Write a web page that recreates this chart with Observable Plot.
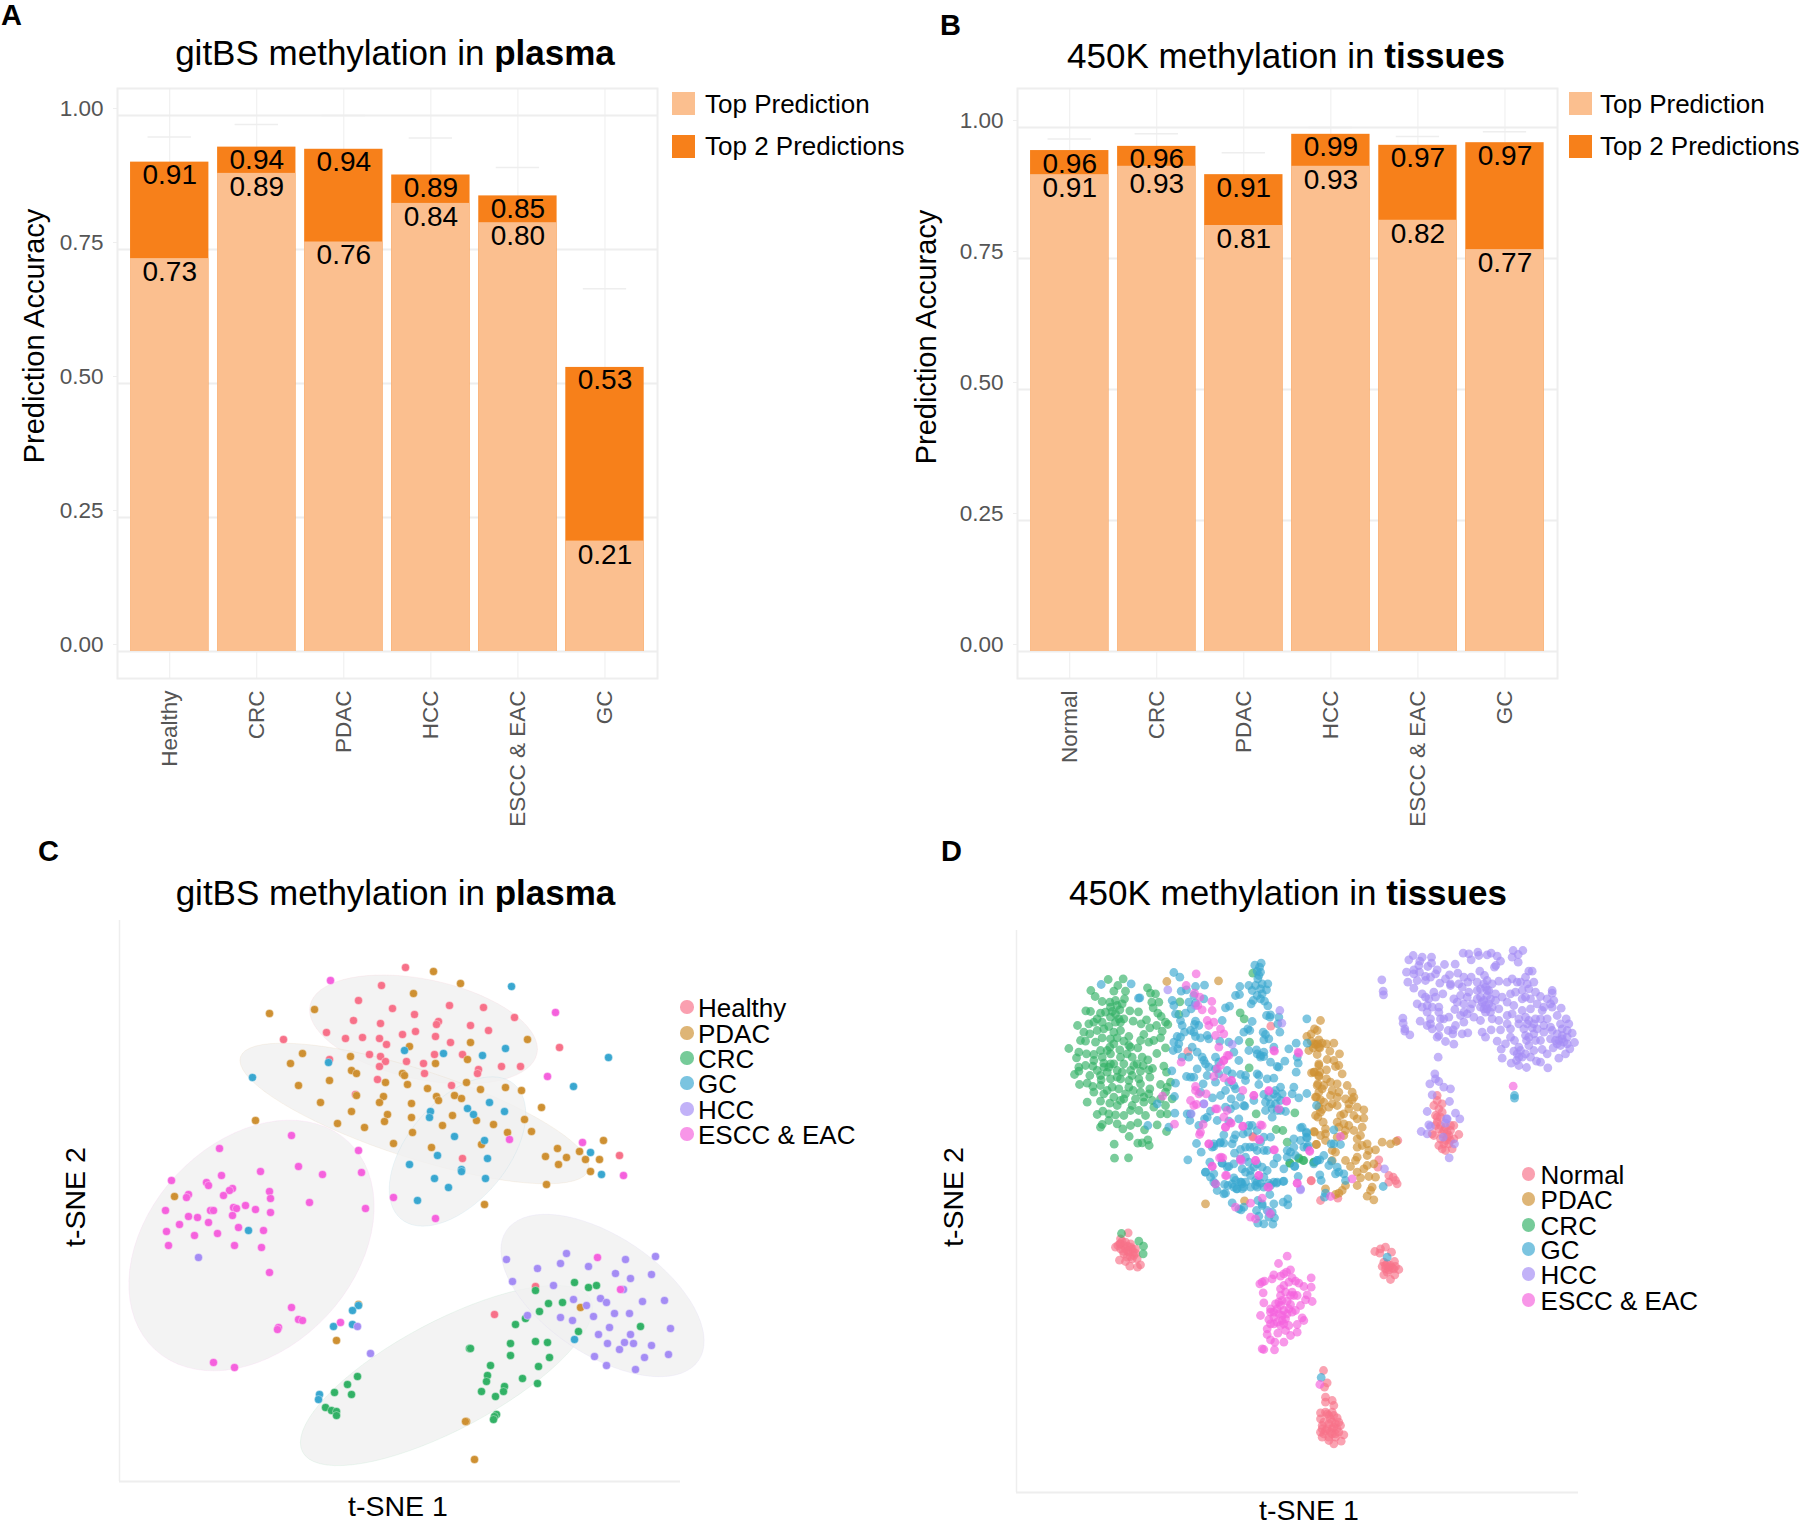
<!DOCTYPE html>
<html><head><meta charset="utf-8">
<script src="https://cdn.jsdelivr.net/npm/d3@7"></script>
<script src="https://cdn.jsdelivr.net/npm/@observablehq/plot@0.6"></script>
<style>
html,body{margin:0;padding:0;background:#fff}
#page{position:relative;width:1800px;height:1526px;overflow:hidden;font-family:"Liberation Sans",Arial,sans-serif;color:#000}
#page svg{position:absolute;background:transparent}
.t{position:absolute;white-space:nowrap;line-height:0.9}
.sw{position:absolute}
</style></head><body><div id="page"></div>
<script>
// ---------- Panels A, B: bars ----------
const catsA = ["Healthy","CRC","PDAC","HCC","ESCC & EAC","GC"];
const top1A = [0.733,0.892,0.764,0.836,0.80,0.206];
const top2A = [0.913,0.941,0.937,0.889,0.85,0.53];
const capA  = [0.96,0.983,1.0,0.958,0.903,0.677];
const catsB = ["Normal","CRC","PDAC","HCC","ESCC & EAC","GC"];
const top1B = [0.91,0.926,0.813,0.926,0.823,0.767];
const top2B = [0.956,0.964,0.91,0.987,0.966,0.971];
const capB  = [0.978,0.988,0.952,1.0,0.983,0.992];

// ---------- Panel C: points in reading units of the picture ----------
const cHealthy = [[405,967],[381,985],[358,1000],[392,1008],[414,1014],[449,1005],[483,1007],[514,1017],[353,1020],[380,1023],[438,1021],[436,1024],[470,1025],[488,1030],[326,1032],[345,1038],[362,1037],[379,1038],[386,1044],[402,1034],[415,1031],[435,1036],[450,1042],[283,1039],[369,1054],[380,1056],[385,1061],[379,1066],[406,1061],[423,1063],[434,1054],[462,1054],[424,1073],[478,1069],[477,1073],[501,1066],[520,1066],[329,1059],[377,1079],[451,1085],[355,1094],[462,1158],[559,1047],[619,1155],[535,1286],[494,1314]];
const cPDAC = [[433,971],[460,983],[413,993],[269,1013],[314,1009],[470,1042],[409,1046],[302,1053],[290,1063],[350,1056],[467,1059],[435,1063],[351,1070],[356,1073],[402,1073],[404,1075],[329,1080],[385,1082],[298,1085],[407,1084],[427,1088],[466,1082],[480,1089],[505,1087],[521,1090],[356,1095],[383,1096],[436,1096],[454,1095],[461,1098],[438,1100],[320,1102],[379,1102],[411,1103],[351,1111],[387,1114],[411,1117],[452,1115],[255,1120],[384,1121],[476,1120],[337,1123],[364,1127],[442,1125],[493,1124],[412,1132],[507,1132],[393,1143],[481,1144],[431,1147],[484,1204],[174,1196],[527,1039],[541,1107],[524,1119],[531,1131],[603,1140],[557,1148],[579,1151],[545,1156],[566,1157],[585,1159],[599,1159],[558,1164],[590,1171],[546,1184],[358,1304],[336,1340],[466,1421],[465,1421],[474,1459],[580,1307]];
const cCRC = [[574,1282],[588,1287],[596,1285],[535,1290],[548,1303],[562,1302],[539,1311],[525,1318],[515,1324],[578,1331],[640,1326],[535,1341],[547,1342],[510,1343],[469,1348],[470,1348],[510,1355],[549,1357],[490,1365],[538,1366],[487,1375],[486,1381],[522,1378],[537,1383],[504,1386],[503,1391],[481,1391],[495,1396],[496,1414],[494,1416],[493,1419],[357,1376],[347,1384],[334,1392],[351,1394],[325,1407],[331,1410],[336,1411],[336,1415]];
const cGC = [[511,986],[404,1050],[443,1053],[482,1055],[505,1048],[328,1062],[252,1077],[489,1102],[467,1108],[473,1114],[430,1111],[429,1117],[504,1111],[454,1136],[484,1140],[437,1155],[487,1158],[409,1164],[461,1169],[461,1171],[434,1178],[485,1178],[448,1187],[417,1200],[608,1057],[573,1086],[590,1152],[601,1174],[248,1230],[358,1305],[352,1310],[352,1324],[333,1326],[319,1394],[318,1399],[574,1339]];
const cHCC = [[198,1257],[357,1326],[370,1353],[506,1259],[537,1268],[566,1253],[560,1263],[588,1266],[625,1259],[615,1273],[630,1278],[512,1281],[553,1285],[623,1289],[573,1299],[600,1298],[606,1302],[586,1305],[527,1315],[560,1317],[572,1320],[593,1316],[614,1313],[629,1313],[609,1327],[598,1334],[630,1334],[624,1342],[633,1343],[607,1343],[619,1349],[594,1356],[606,1365],[635,1369],[655,1256],[651,1274],[642,1301],[664,1300],[670,1328],[651,1345],[668,1354],[644,1357]];
const cESCC = [[330,980],[509,1139],[291,1135],[219,1148],[358,1150],[298,1166],[260,1171],[322,1174],[361,1172],[221,1175],[171,1180],[206,1182],[208,1185],[232,1188],[229,1190],[188,1194],[186,1197],[223,1195],[269,1191],[270,1198],[393,1197],[309,1202],[365,1208],[245,1205],[233,1207],[236,1208],[255,1209],[210,1210],[213,1210],[165,1210],[270,1212],[435,1218],[232,1215],[188,1216],[197,1217],[208,1222],[179,1224],[238,1227],[263,1230],[166,1231],[555,1012],[547,1076],[582,1142],[623,1175],[194,1235],[217,1233],[168,1245],[234,1245],[261,1247],[269,1272],[291,1307],[298,1319],[302,1320],[278,1327],[277,1329],[213,1362],[234,1367],[340,1322],[597,1257],[620,1289]];
// shaded regions: centre x, centre y, semi-axes, tilt in degrees
const cRegionNames = ["Healthy","PDAC","GC","ESCC & EAC","CRC","HCC"];
const cRegions = [[423,1029,116,50,12],[414,1113,183,44,18],[457,1151,88,50,-50],[251,1245,142,103,-47],[446,1375,163,54,-28],[602,1295,116,59,34]];

const dCRC = [[143,87],[188,85],[172,105],[91,120],[160,122],[195,122],[261,112],[104,138],[270,128],[285,130],[125,153],[148,155],[165,150],[192,145],[274,155],[295,155],[76,181],[90,183],[120,188],[135,185],[155,183],[178,178],[208,181],[234,184],[278,172],[292,188],[110,205],[150,200],[175,205],[190,205],[218,212],[258,208],[302,198],[315,215],[51,225],[85,220],[100,215],[125,215],[145,228],[165,215],[242,220],[268,232],[288,225],[322,222],[305,242],[70,245],[88,250],[110,240],[130,235],[160,245],[180,240],[205,258],[250,252],[265,275],[300,262],[60,270],[75,272],[105,275],[125,262],[150,265],[170,262],[190,272],[210,290],[240,270],[280,270],[25,294],[55,305],[78,310],[100,312],[120,300],[148,290],[178,298],[205,285],[232,292],[315,292],[289,309],[48,322],[100,330],[125,320],[150,310],[180,320],[215,320],[245,320],[262,328],[55,350],[75,345],[97,347],[130,338],[160,340],[190,340],[220,345],[248,345],[276,354],[310,347],[42,372],[55,362],[88,375],[120,375],[140,365],[170,360],[210,360],[240,362],[265,358],[318,365],[57,402],[80,398],[97,408],[122,388],[150,385],[180,385],[205,390],[235,385],[268,380],[300,402],[330,395],[315,425],[100,425],[130,430],[155,410],[175,415],[195,430],[218,420],[240,425],[268,415],[300,445],[320,410],[80,455],[120,452],[148,458],[170,465],[190,445],[225,445],[265,430],[250,455],[275,450],[315,465],[335,445],[110,492],[127,482],[145,490],[165,493],[190,495],[210,480],[235,480],[255,495],[280,470],[300,490],[320,490],[145,510],[125,522],[120,530],[170,520],[187,535],[210,525],[232,517],[252,538],[290,523],[206,558],[318,543],[161,581],[232,578],[245,577],[262,568],[266,585],[162,623],[204,622],[358,154],[355,192],[539,187],[551,205],[567,275],[566,352],[587,490],[647,537],[667,540],[703,487],[577,68],[688,638],[715,625],[728,630],[760,635],[680,575],[150,170],[170,165],[185,160],[165,190],[180,215],[160,280],[140,300],[130,350],[145,350],[170,380],[185,365],[215,375],[240,400],[120,405],[140,420],[160,440],[180,450],[205,410],[230,340],[200,310],[150,340],[110,360],[250,440],[215,465]];
const dGC = [[583,44],[602,38],[597,50],[590,62],[600,65],[595,75],[592,85],[565,105],[585,105],[605,100],[622,100],[575,120],[600,115],[618,118],[605,130],[590,135],[578,150],[600,145],[612,152],[572,160],[622,166],[538,108],[525,135],[537,132],[495,172],[507,167],[618,195],[630,193],[628,200],[608,245],[615,252],[655,200],[652,220],[658,245],[610,305],[600,315],[588,298],[340,66],[358,80],[122,102],[212,100],[234,143],[238,142],[432,104],[405,108],[378,118],[362,122],[400,135],[335,150],[340,165],[405,158],[430,145],[385,155],[392,175],[375,188],[345,190],[360,210],[365,225],[405,212],[415,225],[402,222],[372,245],[390,240],[400,245],[350,258],[360,260],[340,275],[355,280],[338,300],[352,295],[420,262],[405,258],[440,255],[485,210],[445,265],[478,272],[505,275],[535,270],[550,245],[562,235],[568,240],[575,213],[610,268],[640,290],[625,265],[685,295],[707,278],[739,205],[740,278],[365,320],[395,290],[410,305],[385,320],[425,320],[430,330],[435,340],[465,320],[475,335],[445,350],[410,355],[465,355],[475,370],[520,305],[535,330],[565,300],[590,310],[600,320],[610,318],[630,335],[650,348],[655,350],[673,332],[713,338],[707,365],[710,320],[334,361],[378,378],[390,380],[400,380],[440,375],[465,395],[500,360],[515,370],[540,372],[555,375],[590,370],[595,375],[620,385],[640,383],[595,402],[505,395],[520,405],[525,415],[555,390],[495,420],[480,435],[512,445],[428,400],[345,398],[342,438],[343,488],[456,442],[420,425],[540,440],[553,467],[580,450],[610,432],[625,440],[645,420],[660,410],[665,430],[640,430],[650,440],[615,455],[630,460],[660,450],[645,460],[700,410],[695,430],[715,442],[739,429],[615,480],[635,475],[675,483],[650,480],[635,500],[660,480],[450,482],[440,500],[470,510],[432,505],[525,465],[510,475],[495,470],[550,465],[535,505],[505,512],[380,490],[390,490],[415,525],[388,510],[325,530],[262,525],[290,460],[408,579],[422,605],[382,628],[460,580],[478,578],[490,578],[490,553],[525,553],[520,565],[515,580],[548,550],[565,525],[575,525],[562,545],[590,540],[610,560],[600,575],[630,560],[555,590],[540,597],[522,608],[568,590],[590,600],[610,600],[580,590],[620,600],[640,640],[650,622],[680,600],[700,565],[725,530],[738,548],[740,562],[700,590],[680,620],[705,615],[740,590],[720,570],[690,605],[770,630],[760,640],[435,665],[450,680],[460,695],[485,638],[500,650],[520,640],[540,625],[555,620],[565,635],[545,655],[555,665],[570,660],[590,640],[605,650],[620,660],[580,650],[540,695],[515,700],[525,690],[545,700],[590,695],[610,680],[670,692],[650,695],[702,648],[470,720],[530,715],[550,710],[590,710],[630,705],[640,695]];
const dGClower = [[75,458],[70,460],[108,445],[100,440],[122,425],[135,425],[150,440],[165,435],[190,440],[208,462],[228,428],[248,423],[248,485],[262,475],[262,493],[293,408],[95,487],[122,508],[115,505],[130,500],[172,480],[185,495],[168,510],[175,527],[185,490],[220,490],[200,510],[215,515],[222,532],[217,551],[190,550],[172,548],[205,530],[358,403],[362,420],[375,458],[372,470],[350,360],[358,358],[370,345],[393,362],[385,375],[410,380],[405,400],[415,395],[430,400],[435,420],[348,195],[400,268],[400,310],[420,312],[392,310],[548,438],[300,262],[318,275],[318,290],[310,320],[323,315],[250,385],[283,377],[28,365],[40,400],[15,395],[45,430],[65,368],[85,378],[100,412],[72,432],[82,435],[125,445],[150,405],[165,420],[180,428],[205,428],[35,320],[60,305],[40,318]];
const dESCC = [[407,70],[377,105],[402,128],[418,140],[454,153],[412,165],[425,178],[455,180],[440,210],[460,215],[445,225],[480,235],[465,255],[490,250],[475,290],[640,300],[713,305],[500,315],[490,330],[480,345],[362,335],[470,355],[460,378],[490,382],[513,390],[405,408],[405,420],[415,430],[437,430],[390,450],[400,465],[408,462],[465,475],[490,500],[510,517],[495,530],[547,527],[605,525],[428,522],[420,545],[417,552],[445,580],[477,622],[487,622],[342,521],[306,437],[580,435],[625,420],[678,452],[595,567],[640,598],[747,600],[585,630],[540,625],[455,647],[495,675],[595,675],[710,698],[622,710]];
const dESCClower = [[222,32],[295,38],[85,45],[70,60],[93,120],[127,150],[160,165],[205,152],[258,182],[235,205],[80,210],[50,205],[92,248],[75,260],[127,258],[180,253],[25,310],[62,350],[222,328],[328,333],[165,360],[120,360],[35,378],[78,405],[175,405],[205,440],[290,428],[455,415],[45,430],[390,468],[150,488],[105,500],[150,530],[165,535],[210,520],[185,473],[420,288],[178,298]];
const dESCCcluster = [[740,227],[714,249],[750,268],[738,275],[730,280],[700,283],[695,295],[720,287],[755,292],[812,292],[658,310],[672,302],[665,305],[765,302],[745,305],[775,308],[790,318],[812,320],[730,315],[720,325],[755,335],[735,335],[770,345],[800,343],[668,337],[720,345],[795,358],[815,363],[670,367],[715,365],[740,362],[750,372],[780,375],[690,385],[705,370],[730,390],[765,390],[660,405],[690,395],[715,400],[740,400],[700,410],[685,417],[725,420],[785,412],[790,420],[700,430],[745,435],[770,432],[680,445],[720,435],[735,450],[680,462],[712,458],[750,465],[770,455],[690,478],[703,485],[730,485],[665,505],[670,507],[702,508],[838,612],[710,385],[725,405],[735,415],[745,385],[755,395],[720,375],[700,395],[710,425],[730,430],[690,430],[750,345],[760,345],[725,360]];
const dPDAC = [[340,10],[352,10],[365,8],[378,10],[400,8],[338,22],[355,20],[388,32],[417,40],[380,57],[400,60],[355,70],[415,75],[405,78],[342,95],[358,95],[378,88],[425,100],[355,108],[378,115],[350,135],[370,135],[390,125],[365,145],[410,130],[440,135],[395,150],[415,155],[435,175],[455,155],[460,170],[345,170],[360,178],[390,165],[410,170],[445,190],[455,178],[370,185],[395,190],[410,195],[385,200],[365,207],[360,215],[345,225],[430,220],[420,225],[445,205],[470,200],[490,208],[460,225],[470,235],[490,233],[368,245],[410,245],[430,250],[415,260],[445,255],[375,265],[340,273],[375,280],[435,270],[460,270],[485,260],[480,285],[360,285],[375,300],[430,285],[410,290],[347,312],[395,330],[405,335],[470,295],[500,310],[485,315],[525,328],[470,320],[505,330],[545,305],[570,310],[500,345],[470,350],[465,360],[395,360],[435,360],[450,378],[500,375],[520,370],[490,385],[470,395],[480,412],[505,408],[525,410],[470,435],[435,435],[515,440],[510,450],[500,467],[520,478],[425,450],[415,458],[405,462],[375,445],[132,481],[587,303],[15,490]];
const dPDACupper = [[319,93],[474,91],[739,258],[752,250],[770,240],[780,210],[762,235],[775,268],[765,282],[752,272],[778,292],[745,300],[770,312],[775,345],[760,365],[753,367],[775,375],[772,400],[775,425],[768,440],[775,470],[762,545],[768,582],[772,500]];
const dHealthyStray = [[631,227],[578,558],[752,690],[382,303]];
const dHealthyLow = [[157,290],[332,421],[360,480],[412,473],[535,358],[532,380],[565,405],[578,410],[590,430],[565,425],[585,420],[592,300]];
const dHealthyRight = [[200,465],[190,495],[205,505],[195,525],[215,490],[215,515],[200,545],[195,555],[205,565],[220,570],[240,570],[235,585],[215,580],[225,600],[190,585],[265,582],[205,615],[225,630],[245,625],[235,610],[250,595],[215,625],[240,555],[185,580],[220,610],[230,590],[200,530],[250,555],[225,560],[230,575],[210,595],[240,600],[210,555],[210,530],[200,480]];
const dHealthyClusters = [[263,157],[240,175],[225,200],[240,190],[255,185],[270,190],[240,205],[255,205],[275,205],[265,215],[285,205],[280,225],[290,235],[260,230],[237,239],[255,243],[268,257],[291,260],[300,253],[275,235],[250,220],[238,190],[250,195],[262,198],[270,200],[248,212],[262,212],[278,215],[270,228],[285,218],[232,195],[245,182],[1035,200],[1020,205],[1003,213],[1018,218],[1053,215],[1062,243],[1030,245],[1045,260],[1035,265],[1060,265],[1075,267],[1030,283],[1050,297],[1063,283],[1040,275],[1050,255],[1025,258],[1040,250],[1055,262],[1045,268],[1035,255],[1065,258],[849,570],[860,607],[852,620],[855,650],[875,660],[855,665],[880,675],[840,697],[855,695],[880,705],[840,715],[870,715],[890,712],[845,735],[865,730],[885,730],[900,735],[875,745],[840,755],[855,750],[895,755],[910,763],[845,770],[865,770],[885,770],[880,790],[902,782],[865,780],[875,760],[860,700],[850,725],[860,745],[875,725],[890,745],[850,760],[870,755],[885,760],[865,705],[875,695],[845,745],[895,725],[880,740]];
const dCRCcluster = [[243,159],[295,182],[309,197],[308,220]];
const dCRClower = [[268,368],[295,352],[310,360],[340,365]];
const dGCcluster = [[1040,230],[842,591]];
const dGCright = [[432,465],[432,473]];
const dESCCright = [[428,437]];
const dHCCstray = [[658,180],[664,218],[515,282],[322,118],[430,460],[392,490],[405,165],[720,715]];
const dHCClower = [[300,448],[552,385],[10,190],[125,360],[205,515]];
const dHCC = [[34,118],[38,152],[39,163],[97,233],[98,248],[103,265],[103,272],[118,283],[149,242],[128,45],[155,50],[183,50],[115,58],[148,62],[183,68],[222,72],[254,71],[145,75],[172,78],[130,88],[108,95],[130,100],[147,95],[200,88],[195,100],[165,108],[112,125],[140,120],[165,120],[180,110],[208,128],[130,143],[237,103],[262,98],[225,115],[240,130],[280,110],[302,110],[328,92],[342,105],[265,130],[275,140],[292,125],[320,125],[350,120],[155,160],[165,170],[190,155],[217,160],[195,170],[240,135],[295,155],[270,165],[250,175],[290,170],[320,150],[345,140],[365,130],[385,122],[410,125],[425,115],[440,125],[465,110],[475,92],[485,92],[490,125],[140,190],[175,175],[170,195],[185,200],[205,200],[155,200],[280,190],[305,190],[330,170],[350,165],[375,160],[395,170],[420,160],[435,155],[455,150],[475,145],[495,155],[510,168],[545,150],[545,158],[170,215],[205,215],[253,207],[280,215],[235,230],[180,235],[210,235],[220,235],[270,225],[290,220],[340,205],[355,190],[375,180],[410,185],[430,195],[455,175],[480,175],[500,190],[530,175],[550,180],[545,200],[572,203],[515,210],[480,205],[455,210],[425,220],[410,225],[365,235],[385,240],[445,235],[465,230],[495,235],[510,235],[530,235],[560,225],[587,235],[170,255],[185,265],[207,260],[280,245],[255,255],[248,268],[233,270],[247,280],[275,280],[292,277],[330,240],[335,275],[345,290],[362,268],[390,268],[410,250],[420,265],[470,250],[485,262],[520,255],[540,260],[570,250],[595,250],[605,278],[590,270],[575,285],[560,280],[520,275],[490,280],[465,285],[432,300],[380,302],[405,310],[392,326],[420,290],[540,295],[555,300],[575,295],[590,310],[612,306],[598,325],[585,340],[565,353],[530,340],[515,327],[548,322],[475,290],[445,320],[430,332],[475,315],[490,330],[465,340],[445,350],[438,360],[395,353],[422,368],[445,375],[468,381],[498,362],[510,365],[532,382],[200,290],[205,285],[225,303],[250,311],[468,300],[450,330],[180,250],[480,350],[278,38],[295,40],[302,58],[322,35],[325,45],[350,43],[362,38],[380,47],[390,62],[372,80],[376,75],[428,30],[457,30],[425,50],[443,42],[443,65],[340,130],[330,145],[355,150],[340,180],[345,215],[365,200],[385,205],[310,230],[330,200],[300,205],[260,185],[450,125],[465,170],[470,130],[540,190],[520,200],[575,265],[545,270],[560,310],[510,300],[495,300],[445,250],[460,265],[193,400],[195,415],[178,430],[205,423],[220,440],[240,445],[185,463],[237,483],[170,513],[255,518],[268,535],[228,535],[225,548],[175,553],[180,558],[152,573],[170,580],[218,590],[252,610],[236,652],[230,535],[203,350],[350,150],[360,175],[345,195],[360,215],[335,185],[320,175],[350,205],[475,240],[490,250],[500,265],[565,300],[580,305],[570,315],[590,290],[440,340],[455,350]];

// legends
const legendC = ["Healthy","PDAC","CRC","GC","HCC","ESCC & EAC"];
const legendD = ["Normal","PDAC","CRC","GC","HCC","ESCC & EAC"];
const hues = ["#f77189","#ce9032","#32b166","#39a7d0","#a48cf4","#f561dd"];
const lightOrange = "#fbbf8f", darkOrange = "#f7801a";
const faint = "#eeeeee", tickGrey = "#555555";
const FONT = '"Liberation Sans",Arial,sans-serif';
const page = document.getElementById("page");

function text(html, x, y, size, opts = {}) {
  const d = document.createElement("div");
  d.className = "t";
  d.innerHTML = html;
  d.style.left = x + "px"; d.style.top = y + "px"; d.style.fontSize = size + "px";
  if (opts.rotate) d.style.transform = `translate(-50%,-50%) rotate(${opts.rotate}deg)`;
  else d.style.transform = `translate(${opts.anchor === "middle" ? "-50%" : "0"},-50%)`;
  if (opts.weight) d.style.fontWeight = opts.weight;
  page.appendChild(d);
}
function swatch(x, y, w, h, color, round) {
  const d = document.createElement("div");
  d.className = "sw";
  Object.assign(d.style, {left:x+"px", top:y+"px", width:w+"px", height:h+"px", background:color, borderRadius:round?"50%":"0"});
  page.appendChild(d);
}
function place(svg, x, y) { svg.style.left = x + "px"; svg.style.top = y + "px"; page.appendChild(svg); }

function barPanel(cats, top1, top2, caps, yAt1, loose) {
  const rows = cats.map((c, i) => ({c, top1: top1[i], top2: top2[i], cap: caps[i]}));
  const f = d3.format(".2f");
  return Plot.plot({
    width: 900, height: 835,
    marginLeft: 117, marginRight: 243, marginTop: 88, marginBottom: 157,
    style: {background: "transparent", fontFamily: FONT},
    x: {type: "band", domain: cats, range: [125.7, 648], paddingInner: 0.1, paddingOuter: 0.05, round: false, label: null},
    y: {domain: [0, 1], range: [651, yAt1], label: null},
    marks: [
      Plot.frame({stroke: faint, strokeWidth: 2}),
      Plot.gridY([0, .25, .5, .75, 1], {stroke: faint, strokeWidth: 2, strokeOpacity: 1}),
      Plot.gridX({stroke: faint, strokeWidth: 1, strokeOpacity: 1}),
      Plot.tickY(rows, {x: "c", y: "cap", stroke: faint, strokeWidth: 1.5, insetLeft: 17.5, insetRight: 17.5}),
      Plot.barY(rows, {x: "c", y: "top2", fill: darkOrange}),
      Plot.barY(rows, {x: "c", y: "top1", fill: lightOrange}),
      Plot.text(rows, {x: "c", y: "top2", text: d => f(d.top2), dy: 13, fontSize: 28, fill: "#000"}),
      Plot.text(rows.filter((d, i) => i !== loose), {x: "c", y: "top1", text: d => f(d.top1), dy: 13.5, fontSize: 28, fill: "#000"}),
      Plot.text(rows.filter((d, i) => i === loose), {x: "c", y: "top1", text: d => f(d.top1), dy: 18, fontSize: 28, fill: "#000"}),
      Plot.axisY({ticks: [0, .25, .5, .75, 1], tickFormat: ".2f", tickSize: 4, tickPadding: 10, dy: -7, fontSize: 22.5, color: tickGrey, stroke: faint, label: null}),
      Plot.axisX({tickRotate: -90, tickSize: 0, tickPadding: 12, fontSize: 22.5, color: tickGrey, label: null})
    ]
  });
}

// ---------- A ----------
place(barPanel(catsA, top1A, top2A, capA, 115, -1), 0, 0);
// ---------- B ----------
place(barPanel(catsB, top1B, top2B, capB, 127, 1), 900, 0);

// ---------- C ----------
const cRows = [];
[[cHealthy,0],[cPDAC,1],[cCRC,2],[cGC,3],[cHCC,4],[cESCC,5]].forEach(([arr,g]) => arr.forEach(p => cRows.push({x:p[0], y:p[1], g:legendC[g]})));
const regionPts = [];
cRegions.forEach((r, k) => {
  const th = r[4] * Math.PI / 180;
  for (let i = 0; i < 72; i++) {
    const t = i / 72 * 2 * Math.PI, u = r[2] * Math.cos(t), v = r[3] * Math.sin(t);
    regionPts.push({id: cRegionNames[k], x: r[0] + u * Math.cos(th) - v * Math.sin(th), y: r[1] + u * Math.sin(th) + v * Math.cos(th)});
  }
});
place(Plot.plot({
  width: 900, height: 691, marginLeft: 119, marginRight: 220, marginTop: 85, marginBottom: 45,
  style: {background: "transparent", fontFamily: FONT},
  x: {domain: [119, 680], axis: null}, y: {domain: [1481, 920], axis: null},
  color: {domain: legendC, range: hues},
  marks: [
    Plot.ruleX([119], {stroke: faint, strokeWidth: 1.5}),
    Plot.ruleY([1481], {stroke: faint, strokeWidth: 2}),
    Plot.line(regionPts, {x: "x", y: "y", z: "id", curve: "linear-closed", fill: "#f0f0f0", fillOpacity: 0.8, stroke: "id", strokeOpacity: 0.08, strokeWidth: 1}),
    Plot.dot(cRows, {x: "x", y: "y", r: 4, fill: "g", fillOpacity: 1, stroke: "white", strokeOpacity: 0.7, strokeWidth: 0.5})
  ]
}), 0, 835);

// ---------- D ----------
const dRows = [];
const add = (arr, g, ox, oy) => arr.forEach(p => dRows.push({x: ox + p[0] / 3, y: oy + p[1] / 3, g: legendD[g]}));
add(dHealthyStray,0,1060,950); add(dHealthyLow,0,1200,1040); add(dHealthyRight,0,1370,940); add(dHealthyClusters,0,1040,1180);
add(dPDACupper,1,1060,950); add(dPDAC,1,1200,1040);
add(dCRC,2,1060,950); add(dCRClower,2,1200,1040); add(dCRCcluster,2,1040,1180);
add(dGC,3,1060,950); add(dGClower,3,1200,1040); add(dGCcluster,3,1040,1180); add(dGCright,3,1370,940);
add(dHCC,4,1370,940); add(dHCCstray,4,1060,950); add(dHCClower,4,1200,1040);
add(dESCC,5,1060,950); add(dESCClower,5,1200,1040); add(dESCCcluster,5,1040,1180); add(dESCCright,5,1370,940);
place(Plot.plot({
  width: 900, height: 691, marginLeft: 116, marginRight: 222, marginTop: 95, marginBottom: 34,
  style: {background: "transparent", fontFamily: FONT},
  x: {domain: [1016, 1578], axis: null}, y: {domain: [1492, 930], axis: null},
  color: {domain: legendD, range: hues},
  marks: [
    Plot.ruleX([1016], {stroke: faint, strokeWidth: 1.5}),
    Plot.ruleY([1492], {stroke: faint, strokeWidth: 2}),
    Plot.dot(dRows, {x: "x", y: "y", r: 4.4, fill: "g", fillOpacity: 0.65})
  ]
}), 900, 835);

// ---------- text ----------
text("A", 1, 15, 29, {weight: "bold"});
text("B", 940, 25, 29, {weight: "bold"});
text("C", 38, 851, 29, {weight: "bold"});
text("D", 941, 851, 29, {weight: "bold"});
text('gitBS methylation in <b>plasma</b>', 395, 53, 35, {anchor: "middle"});
text('450K methylation in <b>tissues</b>', 1286, 56, 35, {anchor: "middle"});
text('gitBS methylation in <b>plasma</b>', 395.5, 893, 35, {anchor: "middle"});
text('450K methylation in <b>tissues</b>', 1288, 893, 35, {anchor: "middle"});
text("Prediction Accuracy", 34, 336, 29, {rotate: -90});
text("Prediction Accuracy", 926, 337, 29, {rotate: -90});
text("t-SNE 1", 398, 1507, 28.5, {anchor: "middle"});
text("t-SNE 1", 1309, 1511, 28.5, {anchor: "middle"});
text("t-SNE 2", 76, 1197, 28.5, {rotate: -90});
text("t-SNE 2", 954, 1197, 28.5, {rotate: -90});

[[671.6, 705], [1568.8, 1600]].forEach(([sx, tx]) => {
  swatch(sx, 92, 23, 23, lightOrange);
  swatch(sx, 135, 23, 23, darkOrange);
  text("Top Prediction", tx, 105, 26);
  text("Top 2 Predictions", tx, 147, 26);
});
const legendRowsC = [1007,1033,1058,1083,1109,1134];
legendC.forEach((n, i) => { swatch(680.3, legendRowsC[i]-6.7, 13.4, 13.4, hues[i]+"aa", true); text(n, 698, legendRowsC[i]+2, 26); });
const legendRowsD = [1174,1199,1225,1249,1274,1300];
legendD.forEach((n, i) => { swatch(1522, legendRowsD[i]-6.7, 13.4, 13.4, hues[i]+"aa", true); text(n, 1540.6, legendRowsD[i]+2, 26); });
</script></body></html>
